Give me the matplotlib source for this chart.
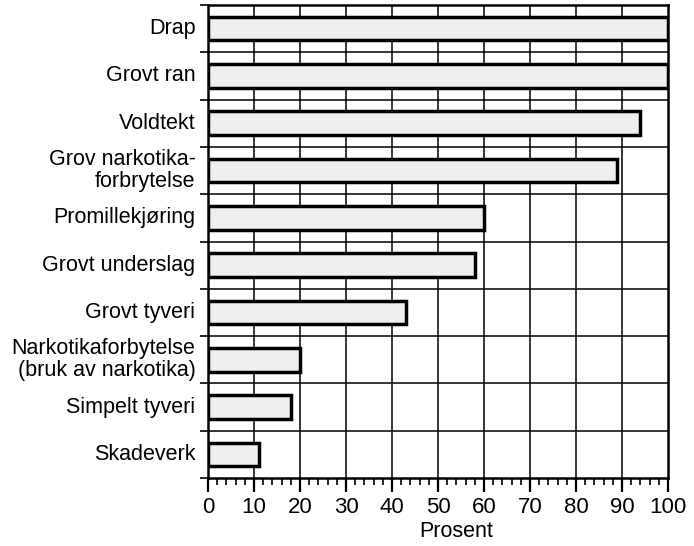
import numpy as np
import matplotlib.pyplot as plt
from matplotlib.ticker import MultipleLocator

plt.rcParams['font.family'] = ['Liberation Sans', 'DejaVu Sans']

categories = ["Drap", "Grovt ran", "Voldtekt", "Grov narkotika-\nforbrytelse",
              "Promillekjøring", "Grovt underslag", "Grovt tyveri",
              "Narkotikaforbytelse\n(bruk av narkotika)", "Simpelt tyveri", "Skadeverk"]
values = [100, 100, 94, 89, 60, 58, 43, 20, 18, 11]

fig = plt.figure(figsize=(6.94, 5.46), dpi=100)
ax = fig.add_axes([0.2997, 0.1245, 0.6628, 0.8663])

n = len(categories)
y = np.arange(n)

# grid first, bars on top
for xv in range(10, 100, 10):
    ax.axvline(xv, color='black', lw=1.1, zorder=1)
for yb in np.arange(0.5, n - 0.5, 1):
    ax.axhline(yb, color='black', lw=1.1, zorder=1)

ax.barh(y, values, height=0.5, left=0, color='#efefef', edgecolor='black',
        linewidth=2.5, zorder=2)

ax.set_xlim(0, 100)
ax.set_ylim(n - 0.5, -0.5)

ax.set_yticks(y)
ax.set_yticklabels(categories, fontsize=15.5, ha='right', va='center',
                   linespacing=1.05)
ax.set_yticks(np.arange(-0.5, n, 1), minor=True)
ax.tick_params(axis='y', which='major', length=0, pad=9)
ax.tick_params(axis='y', which='minor', length=6, width=1.2, direction='out')

ax.set_xticks(range(0, 101, 10))
ax.xaxis.set_minor_locator(MultipleLocator(2))
ax.tick_params(axis='x', which='major', length=10, width=1.6, direction='out',
               labelsize=16, pad=4)
ax.tick_params(axis='x', which='minor', length=5, width=1.2, direction='out')
ax.set_xlabel("Prosent", fontsize=15.5, labelpad=2)
ax.xaxis.label.set_x(0.54)

for s in ax.spines.values():
    s.set_linewidth(1.8)
    s.set_zorder(3)

fig.savefig("out.png", dpi=100)
